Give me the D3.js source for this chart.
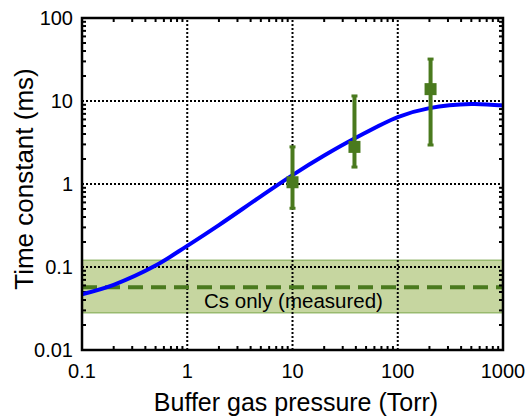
<!DOCTYPE html>
<html lang="en">
<head>
<meta charset="utf-8" />
<title></title>
<script src="https://cdn.jsdelivr.net/npm/d3@7"></script>
<style type="text/css">
  body { margin: 0; background: #fff; }
  svg { display: block; font-family: "Liberation Sans", Arial, sans-serif; }
</style>
</head>
<body>
<script type="text/javascript">
// model curve (Torr, ms)
var curveP = [0.1, 0.2, 0.5, 1, 2, 5, 10, 20, 40, 100, 200, 500, 1000];
var curveT = [0.047, 0.061, 0.104, 0.18, 0.32, 0.71, 1.28, 2.2, 3.6, 6.4, 8.2, 9.2, 8.8];

// measured points with error bars
var ptsP = [10, 38.8, 205];
var ptsT = [1.05, 2.8, 13.9];
var ptsLo = [0.51, 1.6, 2.95];
var ptsHi = [2.8, 11.5, 32];

// Cs only band
var csOnly = 0.057, csLo = 0.028, csHi = 0.121;

var xTicks = [0.1, 1, 10, 100, 1000];
var yTicks = [0.01, 0.1, 1, 10, 100];
var xLabels = ["0.1", "1", "10", "100", "1000"];
var yLabels = ["0.01", "0.1", "1", "10", "100"];

var W = 527, H = 417;
var m = { l: 82, r: 24, t: 18, b: 67 };

var svg = d3.select("body").append("svg").attr("width", W).attr("height", H);

var x = d3.scaleLog().domain([0.1, 1000]).range([m.l, W - m.r]);
var y = d3.scaleLog().domain([0.01, 100]).range([H - m.b, m.t]);

var green = "#4a7a1e";

// band
svg.append("rect")
    .attr("x", x(0.1)).attr("width", x(1000) - x(0.1))
    .attr("y", y(csHi)).attr("height", y(csLo) - y(csHi))
    .attr("fill", "#c6d6a0").attr("stroke", "#7aa64a").attr("stroke-width", 1);

// grid
svg.selectAll(".gx").data(xTicks.slice(1, -1)).enter().append("line")
    .attr("x1", function (d) { return x(d); }).attr("x2", function (d) { return x(d); })
    .attr("y1", y(0.01)).attr("y2", y(100))
    .attr("stroke", "#000").attr("stroke-width", 2).attr("stroke-dasharray", "2,2");
svg.selectAll(".gy").data(yTicks.slice(1, -1)).enter().append("line")
    .attr("y1", function (d) { return y(d); }).attr("y2", function (d) { return y(d); })
    .attr("x1", x(0.1)).attr("x2", x(1000))
    .attr("stroke", "#000").attr("stroke-width", 2).attr("stroke-dasharray", "2,2");

// dashed Cs only line
svg.append("line")
    .attr("x1", x(0.1)).attr("x2", x(1000))
    .attr("y1", y(csOnly)).attr("y2", y(csOnly))
    .attr("stroke", green).attr("stroke-width", 4).attr("stroke-dasharray", "15,8");

svg.append("text")
    .attr("x", x(10) + 1).attr("y", 308)
    .attr("text-anchor", "middle").attr("font-size", 20.5).text("Cs only (measured)");

// minor ticks
var minorX = [], minorY = [];
[0.1, 1, 10, 100].forEach(function (d) { for (var k = 2; k <= 9; k++) minorX.push(d * k); });
[0.01, 0.1, 1, 10].forEach(function (d) { for (var k = 2; k <= 9; k++) minorY.push(d * k); });
var tk = svg.append("g").attr("stroke", "#000").attr("stroke-width", 2);
minorX.forEach(function (d) {
    tk.append("line").attr("x1", x(d)).attr("x2", x(d)).attr("y1", y(0.01)).attr("y2", y(0.01) - 4);
    tk.append("line").attr("x1", x(d)).attr("x2", x(d)).attr("y1", y(100)).attr("y2", y(100) + 4);
});
minorY.forEach(function (d) {
    tk.append("line").attr("y1", y(d)).attr("y2", y(d)).attr("x1", x(0.1)).attr("x2", x(0.1) + 4);
    tk.append("line").attr("y1", y(d)).attr("y2", y(d)).attr("x1", x(1000)).attr("x2", x(1000) - 4);
});

// curve
var line = d3.line()
    .x(function (d, i) { return x(curveP[i]); })
    .y(function (d) { return y(d); })
    .curve(d3.curveCatmullRom.alpha(0.5));
svg.append("path").datum(curveT).attr("d", line)
    .attr("fill", "none").attr("stroke", "#0000ff").attr("stroke-width", 4);

// error bars
var eb = svg.append("g").attr("fill", green).attr("stroke", green);
ptsP.forEach(function (p, i) {
    eb.append("line").attr("x1", x(p)).attr("x2", x(p))
        .attr("y1", y(ptsLo[i])).attr("y2", y(ptsHi[i])).attr("stroke-width", 4);
    eb.append("line").attr("x1", x(p) - 3).attr("x2", x(p) + 3)
        .attr("y1", y(ptsLo[i])).attr("y2", y(ptsLo[i])).attr("stroke-width", 3);
    eb.append("line").attr("x1", x(p) - 3).attr("x2", x(p) + 3)
        .attr("y1", y(ptsHi[i])).attr("y2", y(ptsHi[i])).attr("stroke-width", 3);
    eb.append("rect").attr("x", x(p) - 6).attr("y", y(ptsT[i]) - 6)
        .attr("width", 12).attr("height", 12).attr("stroke", "none");
});

// frame
svg.append("rect")
    .attr("x", x(0.1)).attr("y", y(100))
    .attr("width", x(1000) - x(0.1)).attr("height", y(0.01) - y(100))
    .attr("fill", "none").attr("stroke", "#000").attr("stroke-width", 2.5);

// tick labels
svg.selectAll(".xl").data(xTicks).enter().append("text")
    .attr("x", function (d) { return x(d); }).attr("y", y(0.01) + 28)
    .attr("text-anchor", "middle").attr("font-size", 20)
    .text(function (d, i) { return xLabels[i]; });
svg.selectAll(".yl").data(yTicks).enter().append("text")
    .attr("x", x(0.1) - 9).attr("y", function (d) { return y(d) + 7; })
    .attr("text-anchor", "end").attr("font-size", 20)
    .text(function (d, i) { return yLabels[i]; });

// axis titles
svg.append("text")
    .attr("x", 296).attr("y", 411)
    .attr("text-anchor", "middle").attr("font-size", 25)
    .text("Buffer gas pressure (Torr)");
svg.append("text")
    .attr("transform", "translate(33,179) rotate(-90)")
    .attr("text-anchor", "middle").attr("font-size", 26)
    .text("Time constant (ms)");
</script>
</body>
</html>
